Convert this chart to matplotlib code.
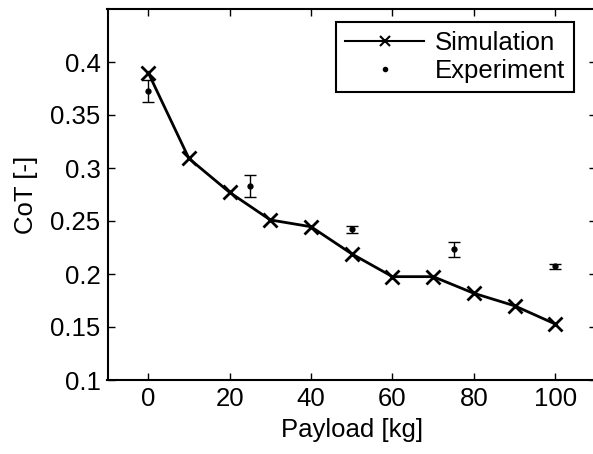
import matplotlib
matplotlib.use("Agg")
import matplotlib.pyplot as plt
from matplotlib.lines import Line2D

# Simulated cost of transport vs payload
sim_payload = [0, 10, 20, 30, 40, 50, 60, 70, 80, 90, 100]
sim_cot = [0.390, 0.309, 0.277, 0.251, 0.2446, 0.219, 0.1975, 0.1975, 0.1818, 0.170, 0.1528]

# Measured cost of transport with standard deviation
exp_payload = [0, 25, 50, 75, 100]
exp_cot = [0.3726, 0.283, 0.242, 0.2233, 0.2075]
exp_err = [0.0108, 0.0104, 0.0033, 0.0068, 0.0024]

plt.rcParams["font.family"] = ["Liberation Sans", "DejaVu Sans"]
plt.rcParams["font.size"] = 18.5

fig = plt.figure(figsize=(5.93, 4.54), dpi=100)
ax = fig.add_axes([107.5 / 593, 74 / 454, (596 - 107.5) / 593, (380 - 9) / 454])

ax.plot(sim_payload, sim_cot, color="k", linewidth=2, marker="x",
        markersize=10, markeredgewidth=2)
ax.errorbar(exp_payload, exp_cot, yerr=exp_err, fmt=".", color="k",
            markersize=7, elinewidth=1, capsize=4, capthick=1)

ax.set_xlim(-10, 110)
ax.set_ylim(0.1, 0.45)
ax.set_xticks([0, 20, 40, 60, 80, 100])
ax.set_yticks([0.1, 0.15, 0.2, 0.25, 0.3, 0.35, 0.4])
ax.set_yticklabels(["0.1", "0.15", "0.2", "0.25", "0.3", "0.35", "0.4"])
ax.tick_params(direction="in", top=True, right=True, length=5, width=1, pad=5)
for s in ax.spines.values():
    s.set_linewidth(1.5)

ax.set_xlabel("Payload [kg]", labelpad=5)
ax.set_ylabel("CoT [-]", labelpad=9)

handles = [
    Line2D([], [], color="k", linewidth=1.5, marker="x", markersize=7, markeredgewidth=1.5),
    Line2D([], [], color="k", linestyle="none", marker=".", markersize=6),
]
leg = ax.legend(handles, ["Simulation", "Experiment"], loc="upper right",
                bbox_to_anchor=((574 - 107.5) / (596 - 107.5), (380 - 22) / 371),
                fancybox=False, edgecolor="k", framealpha=1, borderpad=0.35,
                handlelength=3.1, labelspacing=0.15, handletextpad=0.4,
                borderaxespad=0)
leg.get_frame().set_linewidth(1.5)

fig.savefig("out.png", dpi=100)
